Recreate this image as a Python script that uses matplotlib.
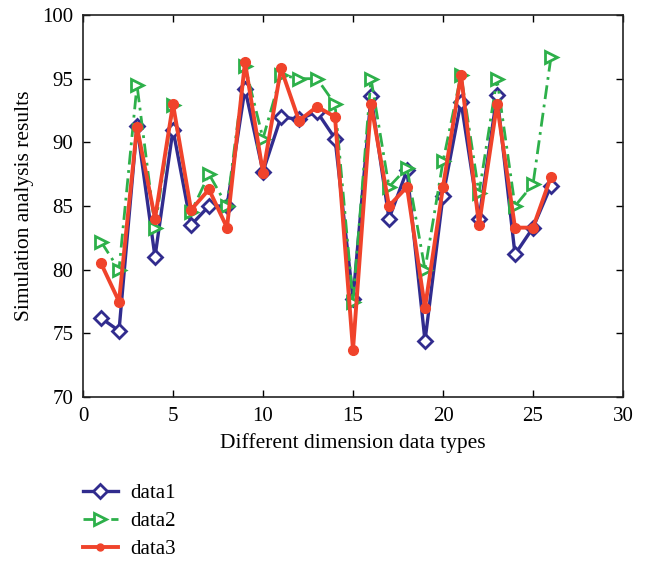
import matplotlib
matplotlib.use("Agg")
import matplotlib.pyplot as plt
from matplotlib.lines import Line2D

x = list(range(1, 27))
data1 = [76.2, 75.2, 91.3, 81.0, 91.0, 83.5, 85.0, 85.0, 94.2, 87.7, 92.0, 91.8, 92.4, 90.3,
         77.7, 93.6, 84.0, 87.8, 74.4, 85.8, 93.2, 84.0, 93.7, 81.2, 83.3, 86.6]
data2 = [82.2, 80.0, 94.5, 83.3, 92.9, 84.5, 87.5, 85.0, 96.0, 90.3, 95.3, 95.0, 95.0, 93.0,
         77.5, 95.0, 86.5, 88.0, 80.0, 88.5, 95.3, 86.0, 95.0, 85.0, 86.7, 96.7]
data3 = [80.5, 77.5, 91.2, 84.0, 93.0, 84.7, 86.3, 83.3, 96.3, 87.6, 95.8, 91.7, 92.8, 92.0,
         73.7, 93.0, 85.0, 86.5, 77.0, 86.5, 95.3, 83.5, 93.0, 83.3, 83.3, 87.3]
labels = ["data1", "data2", "data3"]

plt.rcParams['font.family'] = ['Liberation Serif', 'DejaVu Serif']

fig = plt.figure(figsize=(6.5, 5.61), dpi=100)
ax = fig.add_axes([83/650, 1 - 397/561, 540/650, 382/561])

c1, c2, c3 = '#312C8E', '#2DB04A', '#F0432B'
ax.plot(x, data1, color=c1, lw=2.4, marker='D', ms=7, mfc='white', mec=c1, mew=2, label=labels[0])
ax.plot(x, data2, color=c2, lw=2.0, ls=(0, (5, 2, 1, 2)), marker='>', ms=9, mfc='white', mec=c2, mew=2, label=labels[1])
ax.plot(x, data3, color=c3, lw=2.8, marker='o', ms=7, mfc=c3, mec=c3, label=labels[2])

ax.set_xlim(0, 30)
ax.set_ylim(70, 100)
ax.set_xticks(range(0, 31, 5))
ax.set_yticks(range(70, 101, 5))
ax.tick_params(direction='in', top=True, right=True, labelsize=15, length=5, width=1, pad=7)
for s in ax.spines.values():
    s.set_linewidth(1.2)
    s.set_color('#222222')
ax.set_xlabel("Different dimension data types", fontsize=15.5, labelpad=5)
ax.set_ylabel("Simulation analysis results", fontsize=15.5, labelpad=6)

h1 = Line2D([], [], color=c1, lw=2.4, marker='D', ms=7, mfc='white', mec=c1, mew=2)
h2 = Line2D([], [], color=c2, lw=2.0, ls=(0, (5, 2, 1, 2)), marker='>', ms=9, mfc='white', mec=c2, mew=2)
h3 = Line2D([], [], color=c3, lw=2.8, marker='o', ms=5, mfc=c3, mec=c3)
fig.legend([h1, h2, h3], labels, loc='upper left', bbox_to_anchor=(64/650, 1 - 465/561),
           frameon=False, fontsize=15, handlelength=1.7, labelspacing=0.4, handletextpad=0.6)

fig.savefig("out.png", dpi=100)
